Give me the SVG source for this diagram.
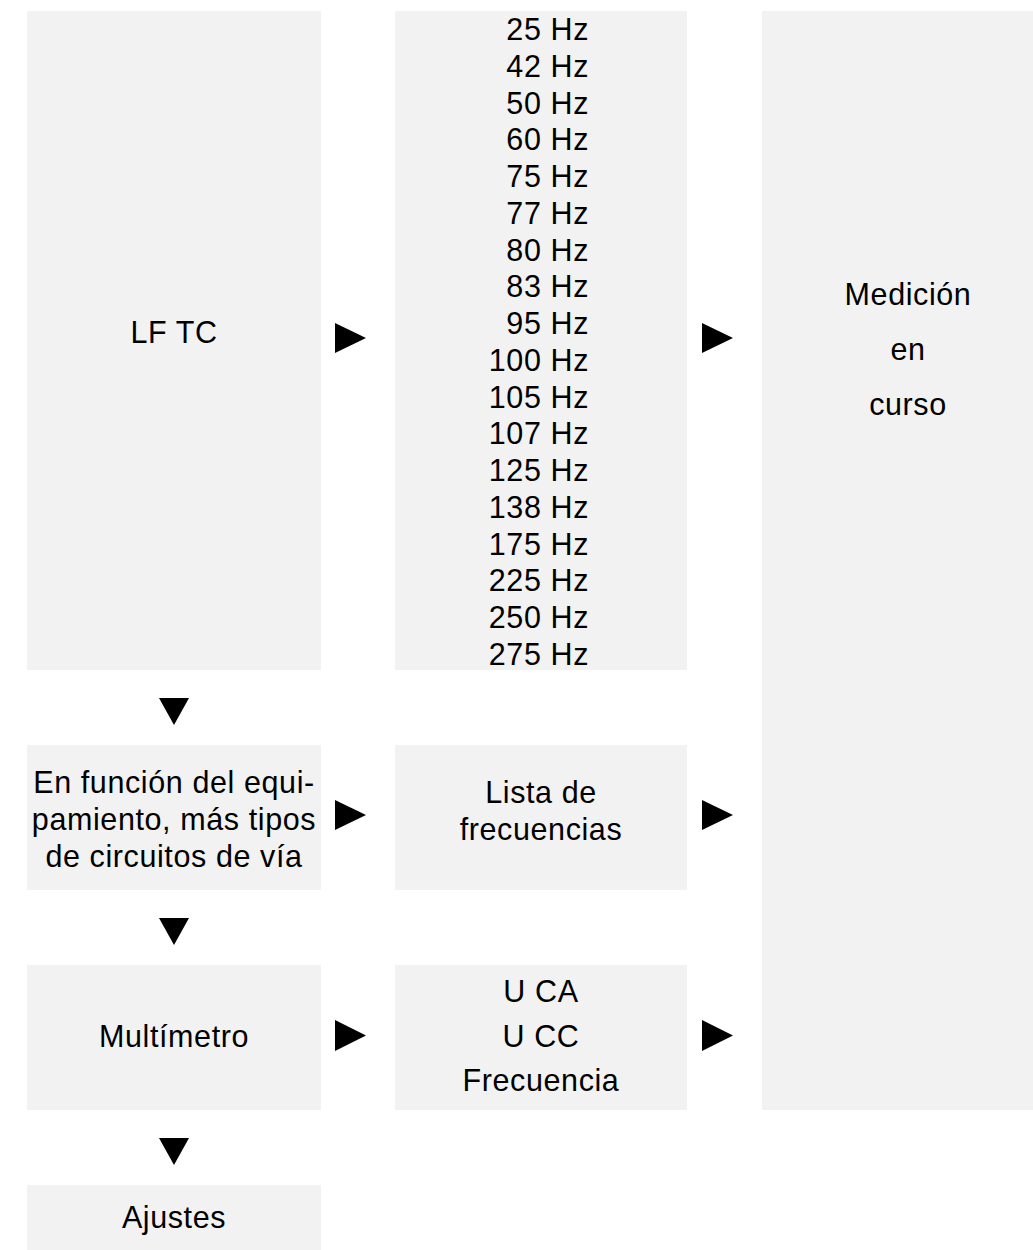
<svg xmlns="http://www.w3.org/2000/svg" width="1033" height="1250" viewBox="0 0 1033 1250">
<style>
.box{fill:#f2f2f2}
text{font-family:"Liberation Sans",Arial,sans-serif;font-size:30.5px;letter-spacing:0.6px;fill:#000;text-anchor:middle}
.hz{text-anchor:end}
.arr{fill:#000}
</style>
<rect x="0" y="0" width="1033" height="1250" fill="#fff"/>
<g id="lftc"><rect class="box" x="27" y="11" width="294" height="659"/><text x="174" y="343">LF TC</text></g>
<g id="freqs"><rect class="box" x="395" y="11" width="292" height="659"/>
<text class="hz" x="589"><tspan x="589" y="40">25 Hz</tspan><tspan x="589" y="76.8">42 Hz</tspan><tspan x="589" y="113.5">50 Hz</tspan><tspan x="589" y="150.3">60 Hz</tspan><tspan x="589" y="187">75 Hz</tspan><tspan x="589" y="223.8">77 Hz</tspan><tspan x="589" y="260.6">80 Hz</tspan><tspan x="589" y="297.3">83 Hz</tspan><tspan x="589" y="334.1">95 Hz</tspan><tspan x="589" y="370.8">100 Hz</tspan><tspan x="589" y="407.6">105 Hz</tspan><tspan x="589" y="444.4">107 Hz</tspan><tspan x="589" y="481.1">125 Hz</tspan><tspan x="589" y="517.9">138 Hz</tspan><tspan x="589" y="554.6">175 Hz</tspan><tspan x="589" y="591.4">225 Hz</tspan><tspan x="589" y="628.2">250 Hz</tspan><tspan x="589" y="665">275 Hz</tspan></text></g>
<g id="medicion"><rect class="box" x="762" y="11" width="293" height="1099"/><text x="908"><tspan x="908" y="305">Medición</tspan><tspan x="908" y="360">en</tspan><tspan x="908" y="415">curso</tspan></text></g>
<g id="equip"><rect class="box" x="27" y="745" width="294" height="145"/><text x="174"><tspan x="174" y="793">En función del equi-</tspan><tspan x="174" y="830">pamiento, más tipos</tspan><tspan x="174" y="867">de circuitos de vía</tspan></text></g>
<g id="lista"><rect class="box" x="395" y="745" width="292" height="145"/><text x="541"><tspan x="541" y="803">Lista de</tspan><tspan x="541" y="840">frecuencias</tspan></text></g>
<g id="multi"><rect class="box" x="27" y="965" width="294" height="145"/><text x="174" y="1047">Multímetro</text></g>
<g id="uca"><rect class="box" x="395" y="965" width="292" height="145"/><text x="541"><tspan x="541" y="1002">U CA</tspan><tspan x="541" y="1047">U CC</tspan><tspan x="541" y="1091">Frecuencia</tspan></text></g>
<g id="ajustes"><rect class="box" x="27" y="1185" width="294" height="65"/><text x="174" y="1228">Ajustes</text></g>
<g id="connectors" class="arr">
<polygon points="335,323 366,338 335,353"/>
<polygon points="702,323 733,338 702,353"/>
<polygon points="335,800 366,815 335,830"/>
<polygon points="702,800 733,815 702,830"/>
<polygon points="335,1020 366,1035.5 335,1051"/>
<polygon points="702,1020 733,1035.5 702,1051"/>
<polygon points="159,698 189,698 174,725"/>
<polygon points="159,918 189,918 174,945"/>
<polygon points="159,1138 189,1138 174,1165"/>
</g>
</svg>
